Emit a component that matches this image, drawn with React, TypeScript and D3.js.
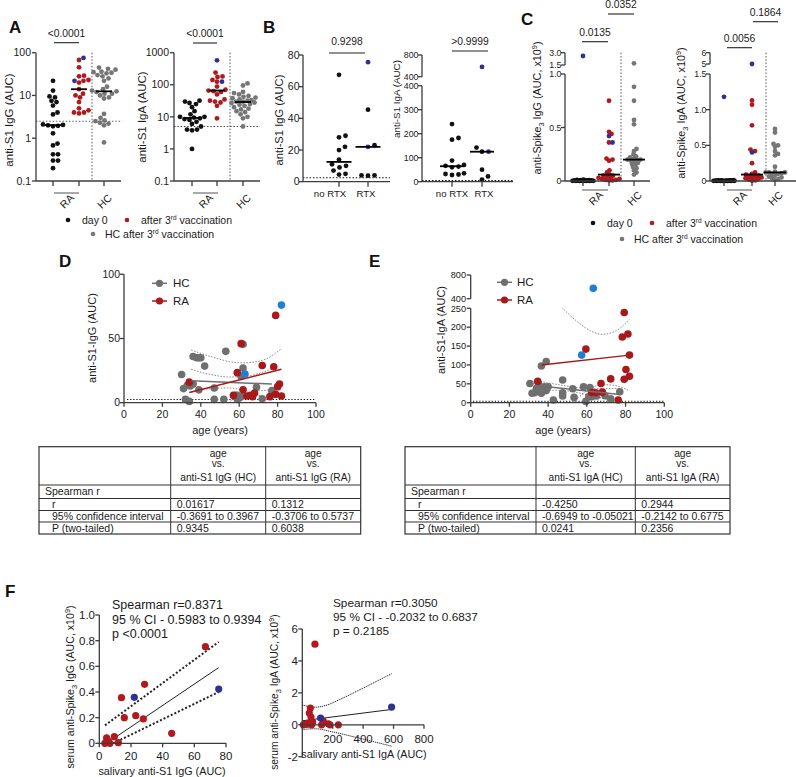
import React from 'react';
import * as d3 from 'd3';

const FONT = "'Liberation Sans', Arial, Helvetica, sans-serif";
const K = '#111111', R = '#b0191e', B = '#2e3192', G = '#767676';
const DG = '#6f6f6f', DR = '#a8191c', DB = '#1f80d0';
const AX = '#3c3c3c';

// ---------------- Panel A / B data (salivary anti-S1, AUC) ----------------
const A_IgG_day0 = [22, 13, 9.5, 9, 7.5, 7, 5.8, 4, 3.6, 2.1, 2.05, 2.0, 1.95, 1.9, 1.3, 0.75, 0.68, 0.42, 0.42, 0.3, 0.3, 0.2];
const A_IgG_HC = [45, 42, 40, 36, 35, 34, 33, 30, 28, 25, 22, 16, 14, 13, 12.5, 12, 11, 11, 10, 9, 8.5, 3.7, 3.0, 2.6, 2.5, 2.3, 2.2, 2.0, 0.8];
const A_IgA_day0 = [32, 30, 27, 25, 20, 15, 12, 10, 10, 9.5, 9, 8.5, 8, 7, 6, 5, 4, 4, 3.8, 1.0];
const A_IgA_HC = [110, 95, 60, 55, 50, 45, 42, 40, 38, 35, 33, 32, 30, 30, 28, 27, 25, 24, 22, 20, 18, 17, 15, 14, 12, 10, 9, 5];
// RA after 3rd vaccination split by rituximab (panel B, pooled in panel A)
const RA_IgG_noRTX = [67.5, 29, 28, 22, 20, 14, 11, 10, 9, 7, 5, 4.5];
const RA_IgG_RTX = [45.5, 23, 4, 4, 3.8];
const RA_IgG_RTX_blue = [75.5, 22];
const RA_IgA_noRTX = [240, 182, 175, 88, 70, 66, 63, 60, 35, 32, 30, 28];
const RA_IgA_RTX = [142, 125, 50, 22, 9];
const RA_IgA_RTX_blue = [580, 125];

// ---------------- Panel C data (serum anti-Spike3, AUC x10^9) ----------------
const C_IgG_day0 = [0.012, 0.01, 0.008, 0.007, 0.006, 0.005, 0.005, 0.004, 0.004, 0.003, 0.003, 0.002, 0.002, 0.002, 0.001, 0.001, 0.001, 0.001];
const C_IgG_day0_blue = [2.6];
const C_IgG_after = [0.75, 0.46, 0.44, 0.36, 0.21, 0.2, 0.19, 0.1, 0.08, 0.06, 0.05, 0.05, 0.04, 0.03, 0.03, 0.02, 0.02, 0.01, 0.01, 0.005, 0.005];
const C_IgG_after_blue = [0.42, 0.36];
const C_IgG_HC = [1.7, 0.88, 0.75, 0.57, 0.53, 0.3, 0.28, 0.25, 0.23, 0.22, 0.21, 0.2, 0.2, 0.2, 0.19, 0.18, 0.17, 0.16, 0.15, 0.13, 0.12, 0.1, 0.08, 0.06];
const C_IgA_day0 = [0.012, 0.01, 0.008, 0.007, 0.006, 0.005, 0.005, 0.004, 0.004, 0.003, 0.003, 0.002, 0.002, 0.002, 0.001, 0.001, 0.001, 0.001];
const C_IgA_day0_blue = [1.18];
const C_IgA_after = [1.13, 1.07, 0.78, 0.44, 0.42, 0.25, 0.12, 0.1, 0.09, 0.08, 0.07, 0.06, 0.05, 0.05, 0.04, 0.03, 0.02, 0.01, 0.005];
const C_IgA_after_blue = [5.0, 0.4];
const C_IgA_HC = [0.73, 0.68, 0.52, 0.5, 0.48, 0.42, 0.38, 0.36, 0.2, 0.13, 0.12, 0.12, 0.12, 0.11, 0.1, 0.1, 0.08, 0.06, 0.05, 0.04, 0.03, 0.02];

// ---------------- Panel D data (age vs anti-S1 IgG) ----------------
const D_HC_age = [30, 31, 32, 34, 33, 34.5, 36, 36, 37.8, 39, 40, 39, 42, 47, 47, 53, 52, 58, 59, 60, 61, 62, 62, 61, 69, 72, 77, 59];
const D_HC_val = [22, 11, 2.6, 1, 13.5, 13, 14.5, 36, 35, 35, 35, 10, 28.5, 11.4, 2.6, 40, 2.6, 5.7, 2.6, 3.6, 20.5, 27, 45.5, 4.7, 12, 3, 9.4, 5.7];
const D_RA_age = [34, 57, 59, 61, 62, 64, 66, 67, 68, 72, 76, 78, 79, 79, 80, 81, 82];
const D_RA_val = [16, 5.7, 23.4, 46, 10, 5.2, 5.7, 4.7, 7.5, 29, 4.7, 28, 68, 6.5, 12.5, 14.5, 5.2];
const D_BL_age = [63, 82];
const D_BL_val = [22.3, 76];
const D_HC_fit_age = [35, 77];
const D_HC_fit_val = [17, 14.5];
const D_RA_fit_age = [34, 82];
const D_RA_fit_val = [8, 26];
const D_band_age = [[35, 45, 55, 62, 72, 82], [35, 45, 55, 65, 78], [35, 45, 55, 65, 77], [40, 50, 62, 72, 82]];
const D_band_val = [[41, 36, 32, 31, 33, 42], [26, 22, 20, 21, 27], [8, 11, 11.5, 8, 2], [-15, -4, 6, 9.5, 10]];

// ---------------- Panel E data (age vs anti-S1 IgA) ----------------
const E_HC_age = [30.6, 31.7, 33, 34, 35, 35.8, 36.5, 38, 39, 40, 39, 36.5, 42.7, 47.5, 47.5, 47.5, 52.7, 53.4, 58.3, 59.5, 61.6, 62, 62.5, 65, 69.4, 72.3, 77, 61];
const E_HC_val = [51, 25, 26.5, 38, 51, 35, 25, 42, 32, 42, 109, 97, 7, 60, 26.5, 17.7, 37, 14, 42, 3.5, 40, 19.4, 16, 17.7, 18.5, 10.6, 29, 16];
const E_RA_age = [34.6, 59.5, 62.5, 64.5, 67.3, 68, 72.3, 76.2, 78.3, 79.3, 79.3, 80.2, 81.2, 82, 82];
const E_RA_val = [57, 142, 27, 26.5, 51, 28, 63, 7, 174, 239, 62, 88, 182, 70, 126];
const E_BL_age = [57.3, 63.3];
const E_BL_val = [126, 575];
const E_HC_fit_age = [36, 77];
const E_HC_fit_val = [44, 22];
const E_RA_fit_age = [36.5, 82];
const E_RA_fit_val = [100, 126];
const E_band_age = [[47, 55, 62, 68, 75, 82], [47, 55, 62, 68, 75, 82], [36, 45, 55, 65, 77], [36, 45, 55, 65, 77]];
const E_band_val = [[252, 215, 190, 181, 190, 221], [-36, 10, 38, 48, 45, 31], [56, 48, 40, 37, 38], [32, 33, 27, 15, 4]];

// ---------------- Tables ----------------
const D_head = [['age', 'vs.', 'anti-S1 IgG (HC)'], ['age', 'vs.', 'anti-S1 IgG (RA)']];
const E_head = [['age', 'vs.', 'anti-S1 IgA (HC)'], ['age', 'vs.', 'anti-S1 IgA (RA)']];
const rowNames = ['Spearman r', 'r', '95% confidence interval', 'P (two-tailed)'];
const D_rows = [['', ''], ['0.01617', '0.1312'], ['-0.3691 to 0.3967', '-0.3706 to 0.5737'], ['0.9345', '0.6038']];
const E_rows = [['', ''], ['-0.4250', '0.2944'], ['-0.6949 to -0.05021', '-0.2142 to 0.6775'], ['0.0241', '0.2356']];

// ---------------- Panel F data ----------------
const F1_x = [67, 28.6, 14, 15.8, 23, 27.8, 45.7, 9.5, 4.6, 4.2, 6.7, 12, 3.5, 5.5];
const F1_y = [0.753, 0.46, 0.356, 0.2, 0.215, 0.19, 0.078, 0.052, 0.042, 0.005, 0, 0.005, 0, 0.02];
const F1_bx = [22.1, 75.4];
const F1_by = [0.358, 0.423];
const F1_fit_x = [4.6, 75.4];
const F1_fit_y = [0, 0.59];
const F1_up_x = [3.6, 75.4];
const F1_up_y = [0.14, 0.79];
const F1_lo_x = [8.8, 75.4];
const F1_lo_y = [0, 0.4];
const F2_x = [83, 53, 46, 57, 7, 24, 42, 61, 127, 138, 171, 182, 237, 68, 30];
const F2_y = [5.05, 1.05, 0.73, 0.48, 0, 0.06, 0.1, 0, 0, 0.23, 0.06, 0, 0, 0.17, 0.03];
const F2_bx = [120, 587];
const F2_by = [0.42, 1.11];
const F2_fit_x = [0, 587];
const F2_fit_y = [0.25, 0.96];
const F2_up_x = [0, 40, 83, 150, 250, 400, 587];
const F2_up_y = [1.24, 1.15, 1.1, 1.2, 1.6, 2.3, 3.2];
const F2_lo_x = [0, 83, 200, 400, 587];
const F2_lo_y = [-0.3, -0.25, -0.45, -0.9, -1.34];

type Pt = { v: number; c: string };
const pts = (vals: number[], c: string): Pt[] => vals.map(v => ({ v, c }));

function swarmOffsets(ys: number[], dist: number, maxHalf: number): number[] {
  const order = d3.range(ys.length).sort((a, b) => ys[b] - ys[a]);
  const placed: [number, number][] = [];
  const out: number[] = new Array(ys.length).fill(0);
  const cands: number[] = [0];
  for (let s = 0.5; s <= maxHalf + 1e-9; s += 0.5) cands.push(s, -s);
  for (const i of order) {
    const y = ys[i];
    let chosen: number | null = null;
    for (const c of cands) {
      let ok = true;
      for (const [px, py] of placed) {
        const dx = px - c, dy = py - y;
        if (dx * dx + dy * dy < dist * dist) { ok = false; break; }
      }
      if (ok) { chosen = c; break; }
    }
    if (chosen === null) {
      let best = -1; chosen = 0;
      for (const c of cands) {
        let m = Infinity;
        for (const [px, py] of placed) { const d = (px - c) ** 2 + (py - y) ** 2; if (d < m) m = d; }
        if (m > best + 1e-6) { best = m; chosen = c; }
      }
    }
    placed.push([chosen, y]);
    out[i] = chosen;
  }
  return out;
}

const Txt = (p: any) => <text fontFamily={FONT} fontSize={10.5} fill="#1a1a1a" {...p} />;

interface ColCfg {
  ax: number; xr: number; base: number;
  segs: [number, number][];
  ticks: { v: number; l: string }[];
  y: (v: number) => number;
  cats: number[];
  groups: { cx: number; pts: Pt[] }[];
  r: number; dist: number; maxHalf: number; medHalf: number;
  labelX: number;
  vline?: { x: number; top: number };
  hline?: { v: number; x1: number; x2: number; color: string };
  fs?: number;
}

function ColumnPanel({ cfg }: { cfg: ColCfg }) {
  const { ax, xr, base, segs, ticks, y, cats, groups, r, dist, maxHalf, medHalf, labelX, vline, hline } = cfg;
  const fs = cfg.fs ?? 10.5;
  return (
    <g>
      {vline && <line x1={vline.x} x2={vline.x} y1={vline.top} y2={base} stroke="#555" strokeWidth={1} strokeDasharray="1.5 1.8" />}
      {hline && <line x1={hline.x1} x2={hline.x2} y1={y(hline.v)} y2={y(hline.v)} stroke={hline.color} strokeWidth={1.1} strokeDasharray="1.5 1.8" />}
      {groups.map((g, gi) => {
        const ys = g.pts.map(p => y(p.v));
        const off = swarmOffsets(ys, dist, maxHalf);
        const order = d3.range(g.pts.length).sort((a, b) => (g.pts[a].c === B ? 1 : 0) - (g.pts[b].c === B ? 1 : 0));
        const med = d3.median(g.pts, p => p.v) as number;
        return (
          <g key={gi}>
            {order.map(i => <circle key={i} cx={g.cx + off[i]} cy={ys[i]} r={r} fill={g.pts[i].c} />)}
            <line x1={g.cx - medHalf} x2={g.cx + medHalf} y1={y(med)} y2={y(med)} stroke="#000" strokeWidth={1.8} />
          </g>
        );
      })}
      {segs.map(([a, b], i) => <line key={i} x1={ax} x2={ax} y1={a} y2={b} stroke={AX} strokeWidth={1.3} />)}
      <line x1={ax} x2={xr} y1={base} y2={base} stroke={AX} strokeWidth={1.3} />
      {ticks.map((t, i) => (
        <g key={i}>
          <line x1={ax - 4} x2={ax} y1={y(t.v)} y2={y(t.v)} stroke={AX} strokeWidth={1.3} />
          <Txt x={labelX} y={y(t.v)} dy="0.35em" textAnchor="end" fontSize={fs}>{t.l}</Txt>
        </g>
      ))}
      {cats.map((c, i) => <line key={i} x1={c} x2={c} y1={base} y2={base + 5} stroke={AX} strokeWidth={1.3} />)}
    </g>
  );
}

function Bracket({ x1, x2, y, text, ty }: { x1: number; x2: number; y: number; text: string; ty: number }) {
  return (
    <g>
      <line x1={x1} x2={x2} y1={y} y2={y} stroke="#222" strokeWidth={1.1} />
      <Txt x={(x1 + x2) / 2} y={ty} dy="0.35em" textAnchor="middle" fontSize={10.3}>{text}</Txt>
    </g>
  );
}

function RotLabel({ x, y, children, fs = 11.5 }: any) {
  return <Txt x={x} y={y} transform={`rotate(-90 ${x} ${y})`} textAnchor="middle" dy="0.35em" fontSize={fs}>{children}</Txt>;
}

function CatLabels({ raX1, raX2, raCx, hcCx, yb }: any) {
  return (
    <g>
      <line x1={raX1} x2={raX2} y1={yb + 12} y2={yb + 12} stroke="#555" strokeWidth={1} />
      <Txt x={raCx + 6} y={yb + 15} textAnchor="end" dy="0.35em" transform={`rotate(-45 ${raCx + 6} ${yb + 15})`}>RA</Txt>
      <Txt x={hcCx + 6} y={yb + 15} textAnchor="end" dy="0.35em" transform={`rotate(-45 ${hcCx + 6} ${yb + 15})`}>HC</Txt>
    </g>
  );
}

function Legend3({ x0, y0, xr, xg, y1 }: any) {
  return (
    <g fontFamily={FONT}>
      <circle cx={x0} cy={y0} r={2.3} fill={K} />
      <Txt x={x0 + 14} y={y0} dy="0.35em">day 0</Txt>
      <circle cx={xr} cy={y0} r={2.3} fill={R} />
      <Txt x={xr + 14} y={y0} dy="0.35em">after 3<tspan fontSize={6.5} dy="-4">rd</tspan><tspan dy="4"> vaccination</tspan></Txt>
      <circle cx={xg} cy={y1} r={2.3} fill={G} />
      <Txt x={xg + 12} y={y1} dy="0.35em">HC after 3<tspan fontSize={6.5} dy="-4">rd</tspan><tspan dy="4"> vaccination</tspan></Txt>
    </g>
  );
}

function StatTable({ cols, rowsY, head, rows }: { cols: number[]; rowsY: number[]; head: string[][]; rows: string[][] }) {
  const [x0, x1, x2, x3] = cols;
  const hy = [rowsY[0] + 6.3, rowsY[0] + 17, rowsY[0] + 30.3];
  return (
    <g>
      <rect x={x0} y={rowsY[0]} width={x3 - x0} height={rowsY[rowsY.length - 1] - rowsY[0]} fill="none" stroke="#333" strokeWidth={1.2} />
      {rowsY.slice(1, -1).map((y, i) => <line key={i} x1={x0} x2={x3} y1={y} y2={y} stroke="#333" strokeWidth={1} />)}
      <line x1={x1} x2={x1} y1={rowsY[0]} y2={rowsY[rowsY.length - 1]} stroke="#333" strokeWidth={1} />
      <line x1={x2} x2={x2} y1={rowsY[0]} y2={rowsY[rowsY.length - 1]} stroke="#333" strokeWidth={1} />
      {head.map((lines, ci) => lines.map((l, li) => (
        <Txt key={ci + '-' + li} x={ci === 0 ? (x1 + x2) / 2 : (x2 + x3) / 2} y={hy[li]} dy="0.35em" textAnchor="middle" fontSize={10.2}>{l}</Txt>
      )))}
      {rowNames.map((n, i) => {
        const cy = (rowsY[i + 1] + rowsY[i + 2]) / 2;
        return (
          <g key={i}>
            <Txt x={x0 + (i === 0 ? 6 : 13)} y={cy} dy="0.35em">{n}</Txt>
            <Txt x={x1 + 6} y={cy} dy="0.35em">{rows[i][0]}</Txt>
            <Txt x={x2 + 6} y={cy} dy="0.35em">{rows[i][1]}</Txt>
          </g>
        );
      })}
    </g>
  );
}

function Letter({ x, y, t }: any) {
  return <text x={x} y={y} fontFamily={FONT} fontWeight="bold" fontSize={17} fill="#111">{t}</text>;
}

export default function App() {
  // ---------- Panel A ----------
  const yAG = d3.scaleLog().domain([0.1, 100]).range([181, 52.7]);
  const yAA = d3.scaleLog().domain([0.1, 1000]).range([181, 52.7]);
  const cfgAG: ColCfg = {
    ax: 36, xr: 121, base: 181, segs: [[52.7, 181]],
    ticks: [0.1, 1, 10, 100].map(v => ({ v, l: String(v) })), y: v => yAG(v),
    cats: [53, 79, 104],
    groups: [
      { cx: 53, pts: pts(A_IgG_day0, K) },
      { cx: 79, pts: [...pts(RA_IgG_noRTX, R), ...pts(RA_IgG_RTX, R), ...pts(RA_IgG_RTX_blue, B)] },
      { cx: 104, pts: pts(A_IgG_HC, G) },
    ],
    r: 2.4, dist: 4.7, maxHalf: 13, medHalf: 8, labelX: 31,
    vline: { x: 92, top: 52.7 }, hline: { v: 2.5, x1: 36, x2: 122, color: '#666' },
  };
  const cfgAA: ColCfg = {
    ax: 174, xr: 260, base: 181, segs: [[52.7, 181]],
    ticks: [0.1, 1, 10, 100, 1000].map(v => ({ v, l: String(v) })), y: v => yAA(v),
    cats: [192, 217, 243],
    groups: [
      { cx: 192, pts: pts(A_IgA_day0, K) },
      { cx: 217, pts: [...pts(RA_IgA_noRTX, R), ...pts(RA_IgA_RTX, R), ...pts(RA_IgA_RTX_blue, B)] },
      { cx: 243, pts: pts(A_IgA_HC, G) },
    ],
    r: 2.4, dist: 4.7, maxHalf: 13, medHalf: 8, labelX: 169,
    vline: { x: 230, top: 52.7 }, hline: { v: 5, x1: 174, x2: 260, color: '#444' },
  };

  // ---------- Panel B ----------
  const yBG = d3.scaleLinear().domain([0, 80]).range([181.7, 55]);
  const yBAlo = d3.scaleLinear().domain([0, 400]).range([181.7, 85.7]);
  const yBAhi = d3.scaleLinear().domain([400, 800]).range([76.7, 55]);
  const yBA = (v: number) => (v <= 400 ? yBAlo(v) : yBAhi(v));
  const cfgBG: ColCfg = {
    ax: 303, xr: 390, base: 181.7, segs: [[55, 181.7]],
    ticks: [0, 20, 40, 60, 80].map(v => ({ v, l: String(v) })), y: v => yBG(v),
    cats: [339, 368],
    groups: [
      { cx: 339, pts: pts(RA_IgG_noRTX, K) },
      { cx: 368, pts: [...pts(RA_IgG_RTX, K), ...pts(RA_IgG_RTX_blue, B)] },
    ],
    r: 2.4, dist: 6.5, maxHalf: 12, medHalf: 12.5, labelX: 299.5,
    hline: { v: 2.5, x1: 303, x2: 390, color: '#111' },
  };
  const cfgBA: ColCfg = {
    ax: 422, xr: 513, base: 181.7, segs: [[85.7, 181.7], [55, 76.7]],
    ticks: [
      { v: 0, l: '0' }, { v: 100, l: '100' }, { v: 200, l: '200' }, { v: 300, l: '300' }, { v: 399.99, l: '400' },
      { v: 400.01, l: '400' }, { v: 800, l: '800' },
    ],
    y: yBA, cats: [452, 482],
    groups: [
      { cx: 452, pts: pts(RA_IgA_noRTX, K) },
      { cx: 482, pts: [...pts(RA_IgA_RTX, K), ...pts(RA_IgA_RTX_blue, B)] },
    ],
    r: 2.4, dist: 6.5, maxHalf: 12, medHalf: 12, labelX: 418.5, fs: 8.8,
    hline: { v: 5, x1: 422, x2: 513, color: '#111' },
  };

  // ---------- Panel C ----------
  const yCGlo = d3.scaleLinear().domain([0, 1]).range([181, 74]);
  const yCGhi = d3.scaleLinear().domain([1.5, 3]).range([65, 52.7]);
  const yCG = (v: number) => (v <= 1.0001 ? yCGlo(v) : yCGhi(v));
  const yCAlo = d3.scaleLinear().domain([0, 1.5]).range([181, 74]);
  const yCAhi = d3.scaleLinear().domain([5, 6]).range([64, 52.7]);
  const yCA = (v: number) => (v <= 1.5001 ? yCAlo(v) : yCAhi(v));
  const cfgCG: ColCfg = {
    ax: 565, xr: 650, base: 181, segs: [[74, 181], [52.7, 65]],
    ticks: [{ v: 0, l: '0' }, { v: 0.5, l: '0.5' }, { v: 1.0, l: '1.0' }, { v: 1.5, l: '1.5' }, { v: 3.0, l: '3.0' }],
    y: yCG, cats: [583, 609, 634],
    groups: [
      { cx: 583, pts: [...pts(C_IgG_day0, K), ...pts(C_IgG_day0_blue, B)] },
      { cx: 609, pts: [...pts(C_IgG_after, R), ...pts(C_IgG_after_blue, B)] },
      { cx: 634, pts: pts(C_IgG_HC, G) },
    ],
    r: 2.4, dist: 3.2, maxHalf: 11, medHalf: 11, labelX: 561.5, fs: 8.8,
    vline: { x: 621, top: 52.7 },
  };
  const cfgCA: ColCfg = {
    ax: 710, xr: 796, base: 181, segs: [[74, 181], [52.7, 64]],
    ticks: [{ v: 0, l: '0' }, { v: 0.5, l: '0.5' }, { v: 1.0, l: '1.0' }, { v: 1.5, l: '1.5' }, { v: 5, l: '5' }, { v: 6, l: '6' }],
    y: yCA, cats: [724, 752, 775],
    groups: [
      { cx: 724, pts: [...pts(C_IgA_day0, K), ...pts(C_IgA_day0_blue, B)] },
      { cx: 752, pts: [...pts(C_IgA_after, R), ...pts(C_IgA_after_blue, B)] },
      { cx: 775, pts: pts(C_IgA_HC, G) },
    ],
    r: 2.4, dist: 3.2, maxHalf: 11, medHalf: 11, labelX: 706.5, fs: 8.8,
    vline: { x: 766, top: 52.7 },
  };

  // ---------- Panels D / E ----------
  const xD = d3.scaleLinear().domain([0, 100]).range([124, 316]);
  const yD = d3.scaleLinear().domain([0, 100]).range([402.7, 274.3]);
  const xE = d3.scaleLinear().domain([0, 100]).range([470.7, 664.3]);
  const yElo = d3.scaleLinear().domain([0, 250]).range([402.7, 308.3]);
  const yEhi = d3.scaleLinear().domain([400, 800]).range([298.7, 275]);
  const yE = (v: number) => (v <= 250 ? yElo(v) : yEhi(v));

  const lineGen = (xs: number[], ys: number[], xs_: any, ys_: any, curve: any = d3.curveLinear) =>
    d3.line<number>().x(i => xs_(xs[i])).y(i => ys_(ys[i])).curve(curve)(d3.range(xs.length)) as string;

  // ---------- Panel F ----------
  const xF1 = d3.scaleLinear().domain([0, 80]).range([99.3, 226]);
  const yF1 = d3.scaleLinear().domain([0, 1]).range([743.3, 615]);
  const xF2 = d3.scaleLinear().domain([0, 800]).range([302.3, 424]);
  const yF2 = d3.scaleLinear().domain([-2, 6]).range([756.7, 629]);

  const scatterAxes = (xs: any, ys: any, xTicks: number[], yTicks: { v: number; l: string }[], xBase: number, yTop: number, yBot: number, xLeft: number, xRight: number, fs: number, xLabY: number, yLabX: number, skipX0 = false) => (
    <g>
      <line x1={xLeft} x2={xLeft} y1={yTop} y2={yBot} stroke={AX} strokeWidth={1.3} />
      <line x1={xLeft} x2={xRight} y1={xBase} y2={xBase} stroke={AX} strokeWidth={1.3} />
      {xTicks.map(t => (
        <g key={'x' + t}>
          <line x1={xs(t)} x2={xs(t)} y1={xBase} y2={xBase + 4} stroke={AX} strokeWidth={1.3} />
          {!(skipX0 && t === 0) && <Txt x={xs(t)} y={xLabY} dy="0.35em" textAnchor="middle" fontSize={fs}>{t}</Txt>}
        </g>
      ))}
      {yTicks.map(t => (
        <g key={'y' + t.l}>
          <line x1={xLeft - 4} x2={xLeft} y1={ys(t.v)} y2={ys(t.v)} stroke={AX} strokeWidth={1.3} />
          <Txt x={yLabX} y={ys(t.v)} dy="0.35em" textAnchor="end" fontSize={fs}>{t.l}</Txt>
        </g>
      ))}
    </g>
  );

  return (
    <svg width={796} height={777} style={{ position: 'absolute', left: 0, top: 0, background: '#fff' }}>
      <defs>
        <clipPath id="clipD"><rect x={124} y={274.3} width={192} height={128.4} /></clipPath>
        <clipPath id="clipE"><rect x={470.7} y={308.3} width={193.6} height={94.4} /></clipPath>
      </defs>
      <rect x={0} y={0} width={796} height={777} fill="#fff" />

      {/* ================= A ================= */}
      <Letter x={9} y={33} t="A" />
      <ColumnPanel cfg={cfgAG} />
      <ColumnPanel cfg={cfgAA} />
      <Bracket x1={54} x2={79} y={42.7} text="<0.0001" ty={33} />
      <Bracket x1={193} x2={217} y={43} text="<0.0001" ty={33} />
      <RotLabel x={9} y={120}>anti-S1 IgG (AUC)</RotLabel>
      <RotLabel x={142} y={117}>anti-S1 IgA (AUC)</RotLabel>
      <CatLabels raX1={54} raX2={79} raCx={66} hcCx={104} yb={181} />
      <CatLabels raX1={193} raX2={218} raCx={205} hcCx={243} yb={181} />
      <Legend3 x0={68} y0={220} xr={127} xg={93} y1={234} />

      {/* ================= B ================= */}
      <Letter x={263} y={33} t="B" />
      <ColumnPanel cfg={cfgBG} />
      <ColumnPanel cfg={cfgBA} />
      <Bracket x1={329} x2={365} y={53} text="0.9298" ty={41.5} />
      <Bracket x1={452} x2={488} y={51} text=">0.9999" ty={41.5} />
      <RotLabel x={279.5} y={120} fs={11.2}>anti-S1 IgG (AUC)</RotLabel>
      <RotLabel x={397} y={99} fs={9.8}>anti-S1 IgA (AUC)</RotLabel>
      {[[330, 'no RTX'], [366, 'RTX'], [452, 'no RTX'], [484, 'RTX']].map(([x, l]) => (
        <Txt key={String(x)} x={x as number} y={194} dy="0.35em" textAnchor="middle" fontSize={9.6}>{l}</Txt>
      ))}

      {/* ================= C ================= */}
      <Letter x={521} y={25} t="C" />
      <ColumnPanel cfg={cfgCG} />
      <ColumnPanel cfg={cfgCA} />
      <Bracket x1={582} x2={608} y={41.7} text="0.0135" ty={32} />
      <Bracket x1={608} x2={634} y={14} text="0.0352" ty={4.5} />
      <Bracket x1={727} x2={752} y={47.7} text="0.0056" ty={38} />
      <Bracket x1={753} x2={778} y={21.7} text="0.1864" ty={12.5} />
      <RotLabel x={537} y={108} fs={10.8}>anti-Spike<tspan fontSize={7.5} dy="3">3</tspan><tspan dy="-3"> IgG (AUC, x10</tspan><tspan fontSize={7.5} dy="-4">9</tspan><tspan dy="4">)</tspan></RotLabel>
      <RotLabel x={681} y={113} fs={10.8}>anti-Spike<tspan fontSize={7.5} dy="3">3</tspan><tspan dy="-3"> IgA (AUC, x10</tspan><tspan fontSize={7.5} dy="-4">9</tspan><tspan dy="4">)</tspan></RotLabel>
      <CatLabels raX1={582} raX2={608} raCx={595} hcCx={634} yb={178} />
      <CatLabels raX1={727} raX2={752} raCx={739} hcCx={775} yb={178} />
      <Legend3 x0={593} y0={223} xr={652} xg={622} y1={239} />

      {/* ================= D ================= */}
      <Letter x={59} y={267} t="D" />
      <line x1={127} x2={316} y1={yD(2.5)} y2={yD(2.5)} stroke="#111" strokeWidth={1.1} strokeDasharray="1.3 1.8" />
      <g clipPath="url(#clipD)">
        {D_band_age.map((a, i) => (
          <path key={i} d={lineGen(a, D_band_val[i], xD, yD, d3.curveMonotoneX)} fill="none" stroke="#888" strokeWidth={1} strokeDasharray="1.5 1.5" />
        ))}
      </g>
      {D_HC_age.map((a, i) => <circle key={'dh' + i} cx={xD(a)} cy={yD(D_HC_val[i])} r={3.8} fill={DG} />)}
      {D_RA_age.map((a, i) => <circle key={'dr' + i} cx={xD(a)} cy={yD(D_RA_val[i])} r={3.8} fill={DR} />)}
      {D_BL_age.map((a, i) => <circle key={'db' + i} cx={xD(a)} cy={yD(D_BL_val[i])} r={3.8} fill={DB} />)}
      <path d={lineGen(D_HC_fit_age, D_HC_fit_val, xD, yD)} stroke={DG} strokeWidth={1.5} fill="none" />
      <path d={lineGen(D_RA_fit_age, D_RA_fit_val, xD, yD)} stroke={DR} strokeWidth={1.5} fill="none" />
      {scatterAxes(xD, yD, [0, 20, 40, 60, 80, 100], [{ v: 0, l: '0' }, { v: 50, l: '50' }, { v: 100, l: '100' }], 402.7, 274.3, 402.7, 124, 316, 10.5, 414, 120)}
      <RotLabel x={92} y={338} fs={11}>anti-S1-IgG (AUC)</RotLabel>
      <Txt x={220} y={430} dy="0.35em" textAnchor="middle" fontSize={11}>age (years)</Txt>
      <g>
        <line x1={152} x2={167} y1={283.3} y2={283.3} stroke={DG} strokeWidth={1.5} />
        <circle cx={159.5} cy={283.3} r={3.6} fill={DG} />
        <Txt x={173} y={283.3} dy="0.35em" fontSize={11.5}>HC</Txt>
        <line x1={152} x2={167} y1={301} y2={301} stroke={DR} strokeWidth={1.5} />
        <circle cx={159.5} cy={301} r={3.6} fill={DR} />
        <Txt x={173} y={301} dy="0.35em" fontSize={11.5}>RA</Txt>
      </g>

      {/* ================= E ================= */}
      <Letter x={369} y={267} t="E" />
      <line x1={473} x2={664} y1={yE(4)} y2={yE(4)} stroke="#111" strokeWidth={1.1} strokeDasharray="1.3 1.8" />
      <g clipPath="url(#clipE)">
        {E_band_age.map((a, i) => (
          <path key={i} d={lineGen(a, E_band_val[i], xE, yElo, d3.curveMonotoneX)} fill="none" stroke="#888" strokeWidth={1} strokeDasharray="1.5 1.5" />
        ))}
      </g>
      {E_HC_age.map((a, i) => <circle key={'eh' + i} cx={xE(a)} cy={yE(E_HC_val[i])} r={3.8} fill={DG} />)}
      {E_RA_age.map((a, i) => <circle key={'er' + i} cx={xE(a)} cy={yE(E_RA_val[i])} r={3.8} fill={DR} />)}
      {E_BL_age.map((a, i) => <circle key={'eb' + i} cx={xE(a)} cy={yE(E_BL_val[i])} r={3.8} fill={DB} />)}
      <path d={lineGen(E_HC_fit_age, E_HC_fit_val, xE, yE)} stroke={DG} strokeWidth={1.5} fill="none" />
      <path d={lineGen(E_RA_fit_age, E_RA_fit_val, xE, yE)} stroke={DR} strokeWidth={1.5} fill="none" />
      <g>
        <line x1={470.7} x2={470.7} y1={308.3} y2={402.7} stroke={AX} strokeWidth={1.3} />
        <line x1={470.7} x2={470.7} y1={275} y2={298.7} stroke={AX} strokeWidth={1.3} />
        <line x1={470.7} x2={664.3} y1={402.7} y2={402.7} stroke={AX} strokeWidth={1.3} />
        {[0, 20, 40, 60, 80, 100].map(t => (
          <g key={'ex' + t}>
            <line x1={xE(t)} x2={xE(t)} y1={402.7} y2={406.7} stroke={AX} strokeWidth={1.3} />
            <Txt x={xE(t)} y={414} dy="0.35em" textAnchor="middle">{t}</Txt>
          </g>
        ))}
        {[0, 50, 100, 150, 200, 250, 400, 800].map(t => (
          <g key={'ey' + t}>
            <line x1={466.7} x2={470.7} y1={yE(t)} y2={yE(t)} stroke={AX} strokeWidth={1.3} />
            <Txt x={466} y={yE(t)} dy="0.35em" textAnchor="end" fontSize={9.2}>{t}</Txt>
          </g>
        ))}
      </g>
      <RotLabel x={441} y={330} fs={11}>anti-S1-IgA (AUC)</RotLabel>
      <Txt x={563} y={430} dy="0.35em" textAnchor="middle" fontSize={11}>age (years)</Txt>
      <g>
        <line x1={497} x2={512} y1={282.3} y2={282.3} stroke={DG} strokeWidth={1.5} />
        <circle cx={504.5} cy={282.3} r={3.6} fill={DG} />
        <Txt x={517} y={282.3} dy="0.35em" fontSize={11.5}>HC</Txt>
        <line x1={497} x2={512} y1={300} y2={300} stroke={DR} strokeWidth={1.5} />
        <circle cx={504.5} cy={300} r={3.6} fill={DR} />
        <Txt x={517} y={300} dy="0.35em" fontSize={11.5}>RA</Txt>
      </g>

      {/* ================= Tables ================= */}
      <StatTable cols={[39, 170.7, 265.7, 360.7]} rowsY={[446.7, 485, 498.5, 510.5, 522, 534]} head={D_head} rows={D_rows} />
      <StatTable cols={[405, 536, 635.3, 730]} rowsY={[446.7, 485, 498.5, 510.5, 522, 534]} head={E_head} rows={E_rows} />

      {/* ================= F ================= */}
      <Letter x={5} y={597} t="F" />
      <path d={lineGen(F1_up_x, F1_up_y, xF1, yF1)} stroke="#222" strokeWidth={2} strokeDasharray="2 2" fill="none" />
      <path d={lineGen(F1_lo_x, F1_lo_y, xF1, yF1)} stroke="#222" strokeWidth={2} strokeDasharray="2 2" fill="none" />
      <path d={lineGen(F1_fit_x, F1_fit_y, xF1, yF1)} stroke="#222" strokeWidth={1} fill="none" />
      {F1_x.map((x, i) => <circle key={'f1' + i} cx={xF1(x)} cy={yF1(F1_y[i])} r={3.6} fill={R} />)}
      {F1_bx.map((x, i) => <circle key={'f1b' + i} cx={xF1(x)} cy={yF1(F1_by[i])} r={3.6} fill={B} />)}
      {scatterAxes(xF1, yF1, [0, 20, 40, 60, 80], [0, 0.2, 0.4, 0.6, 0.8, 1.0].map(v => ({ v, l: v === 0 ? '0' : v.toFixed(1) })), 743.3, 615, 743.3, 99.3, 226, 11.5, 755.5, 95)}
      <RotLabel x={70.5} y={687} fs={10.6}>serum anti-Spike<tspan fontSize={7.5} dy="3">3</tspan><tspan dy="-3"> IgG (AUC, x10</tspan><tspan fontSize={7.5} dy="-4">9</tspan><tspan dy="4">)</tspan></RotLabel>
      <Txt x={162} y={771} dy="0.35em" textAnchor="middle" fontSize={10.8}>salivary anti-S1 IgG (AUC)</Txt>
      <Txt x={112} y={605} dy="0.35em" fontSize={12.5}>Spearman r=0.8371</Txt>
      <Txt x={112} y={619.3} dy="0.35em" fontSize={12.5}>95 % CI - 0.5983 to 0.9394</Txt>
      <Txt x={112} y={633.3} dy="0.35em" fontSize={12.5}>p &lt;0.0001</Txt>

      <path d={lineGen(F2_up_x, F2_up_y, xF2, yF2, d3.curveMonotoneX)} stroke="#222" strokeWidth={1} strokeDasharray="1.2 0.8" fill="none" />
      <path d={lineGen(F2_lo_x, F2_lo_y, xF2, yF2, d3.curveMonotoneX)} stroke="#222" strokeWidth={1} strokeDasharray="1.2 0.8" fill="none" />
      <path d={lineGen(F2_fit_x, F2_fit_y, xF2, yF2)} stroke="#222" strokeWidth={1} fill="none" />
      {F2_x.map((x, i) => <circle key={'f2' + i} cx={xF2(x)} cy={yF2(F2_y[i])} r={3.6} fill={R} />)}
      {F2_bx.map((x, i) => <circle key={'f2b' + i} cx={xF2(x)} cy={yF2(F2_by[i])} r={3.6} fill={B} />)}
      {scatterAxes(xF2, yF2, [0, 200, 400, 600, 800], [-2, 0, 2, 4, 6].map(v => ({ v, l: String(v) })), yF2(0), 629, 756.7, 302.3, 424, 11.5, 738.5, 298, true)}
      <RotLabel x={274} y={692} fs={10.2}>serum anti-Spike<tspan fontSize={7.5} dy="3">3</tspan><tspan dy="-3"> IgA (AUC, x10</tspan><tspan fontSize={7.5} dy="-4">9</tspan><tspan dy="4">)</tspan></RotLabel>
      <Txt x={364} y={754.5} dy="0.35em" textAnchor="middle" fontSize={10.8}>salivary anti-S1 IgA (AUC)</Txt>
      <Txt x={333} y={603.3} dy="0.35em" fontSize={11.8}>Spearman r=0.3050</Txt>
      <Txt x={333} y={617.3} dy="0.35em" fontSize={11.8}>95 % CI -  -0.2032 to 0.6837</Txt>
      <Txt x={333} y={631} dy="0.35em" fontSize={11.8}>p = 0.2185</Txt>
    </svg>
  );
}
